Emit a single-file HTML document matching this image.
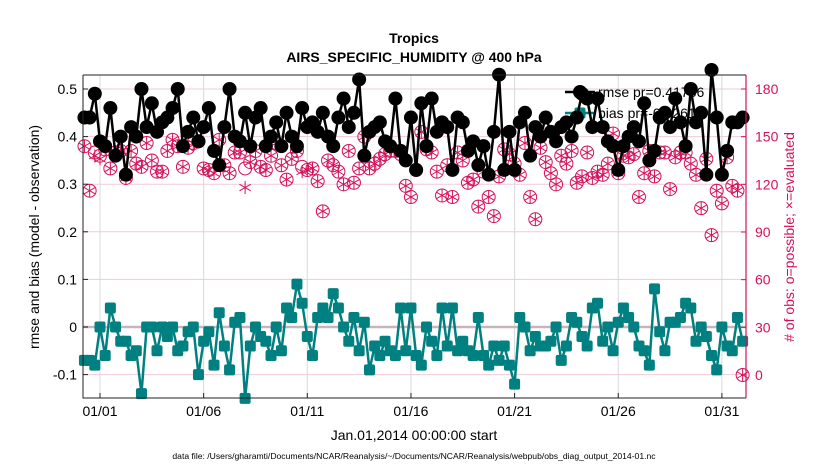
<!DOCTYPE html>
<html><head><meta charset="utf-8"><style>
body{margin:0;background:#fff;}
svg{display:block;font-family:"Liberation Sans",sans-serif;}
</style></head><body>
<svg id="chart" width="830" height="470" viewBox="0 0 830 470">
<text x="414" y="43" font-size="14" font-weight="bold" text-anchor="middle">Tropics</text>
<text x="414" y="62" font-size="14" font-weight="bold" text-anchor="middle">AIRS_SPECIFIC_HUMIDITY @ 400 hPa</text>
<g id="grid"></g><g id="legend"></g><g id="marks"></g><g id="axes"></g>
<text x="414" y="440" font-size="14" text-anchor="middle">Jan.01,2014 00:00:00 start</text>
<text x="414" y="459" font-size="8.6" text-anchor="middle">data file: /Users/gharamti/Documents/NCAR/Reanalysis/~/Documents/NCAR/Reanalysis/webpub/obs_diag_output_2014-01.nc</text>
<text transform="translate(39,237) rotate(-90)" font-size="14" text-anchor="middle">rmse and bias (model - observation)</text>
<text transform="translate(794,237) rotate(-90)" font-size="14" fill="#d6105a" text-anchor="middle"># of obs: o=possible; ×=evaluated</text>
</svg>
<script>
const rmse=[0.44,0.44,0.49,0.39,0.38,0.46,0.36,0.40,0.32,0.42,0.40,0.50,0.42,0.47,0.41,0.43,0.44,0.46,0.50,0.38,0.41,0.44,0.39,0.42,0.46,0.37,0.34,0.42,0.50,0.40,0.39,0.45,0.38,0.44,0.46,0.38,0.40,0.43,0.38,0.45,0.40,0.38,0.46,0.42,
0.43,0.41,0.45,0.40,0.38,0.44,0.48,0.42,0.45,0.52,0.36,0.41,0.42,0.43,0.39,0.38,0.48,0.37,0.35,0.44,0.33,0.47,0.38,0.48,0.41,0.43,0.42,0.33,0.44,0.43,0.37,0.39,0.34,0.38,0.32,0.41,0.53,0.33,0.41,0.33,0.43,0.45,0.36,
0.42,0.40,0.44,0.41,0.39,0.42,0.43,0.40,0.44,0.49,0.48,0.42,0.48,0.42,0.39,0.38,0.33,0.38,0.40,0.42,0.39,0.47,0.35,0.37,0.44,0.45,0.42,0.48,0.43,0.38,0.50,0.43,0.45,0.32,0.54,0.44,0.32,0.37,0.43,0.43,0.44];
const bias=[-0.07,-0.07,-0.08,0.00,-0.06,0.04,0.00,-0.03,-0.03,-0.06,-0.05,-0.14,0.00,0.00,-0.05,0.00,-0.02,0.00,-0.05,-0.04,-0.01,0.00,-0.10,-0.03,-0.01,-0.08,0.03,-0.04,-0.09,0.01,0.02,-0.15,-0.04,0.00,-0.02,-0.03,-0.06,0.00,-0.05,0.04,0.02,0.09,0.05,-0.02,
-0.06,0.02,0.04,0.02,0.07,0.04,0.00,-0.03,0.02,-0.05,0.01,-0.09,-0.04,-0.06,-0.03,-0.05,-0.06,0.04,-0.05,0.04,-0.06,-0.08,0.00,-0.03,-0.06,0.04,-0.04,0.04,-0.05,-0.03,-0.05,-0.06,0.02,-0.06,-0.08,-0.04,-0.07,-0.04,-0.08,-0.12,0.02,0.00,-0.05,
-0.02,-0.04,-0.04,-0.03,0.00,-0.07,-0.04,0.02,0.01,-0.02,-0.04,0.04,0.05,-0.03,0.00,-0.05,0.01,0.04,0.02,0.00,-0.04,-0.05,-0.08,0.08,-0.01,-0.05,0.01,0.01,0.02,0.05,0.04,-0.03,0.00,-0.02,-0.06,-0.09,0.00,-0.04,-0.05,0.02,-0.03];
const possible=[144,116,140,138,142,130,140,141,124,141,133,131,146,135,128,128,141,148,144,131,143,146,147,130,129,127,148,132,127,140,140,130,134,141,131,129,138,146,132,123,136,141,131,129,
130,122,103,135,132,128,120,141,121,130,150,130,133,136,139,141,141,139,119,112,129,153,142,140,128,113,132,112,140,135,121,123,106,128,112,100,125,142,139,133,126,146,112,
98,143,134,127,120,138,133,141,121,125,140,124,128,126,133,152,127,138,137,139,112,127,141,125,140,140,117,137,140,140,133,126,105,136,88,116,108,137,119,116,0];
const evaluated=[144,116,138,136,142,130,140,141,124,141,133,131,146,135,128,128,141,148,144,131,143,146,147,130,129,127,148,132,127,140,140,118,134,141,131,129,138,146,132,123,136,141,128,129,
130,122,103,135,132,128,120,141,121,130,150,130,133,136,139,141,141,139,119,112,129,153,142,140,128,113,132,112,140,135,121,123,106,128,112,100,125,142,139,133,126,146,112,
98,143,134,127,120,138,133,141,121,125,140,124,128,126,133,152,127,138,137,139,112,127,141,125,140,140,117,137,140,140,133,126,105,136,88,116,108,137,119,116,0];
const xTickLabels=["01/01","01/06","01/11","01/16","01/21","01/26","01/31"];
const xTickDays=[0,5,10,15,20,25,30];
const leftTicks=[-0.1,0,0.1,0.2,0.3,0.4,0.5];
const rightTicks=[0,30,60,90,120,150,180];
const t0=-0.75, dt=0.25;

const L=83,R=746,T=75,B=398;
const X=d=>100+d*20.73;
const YL=v=>327-476*v;
const YR=c=>375-c*1.5889;
const NS="http://www.w3.org/2000/svg";
function mk(parent,tag,attrs){const e=document.createElementNS(NS,tag);for(const k in attrs)e.setAttribute(k,attrs[k]);parent.appendChild(e);return e;}
const grid=document.getElementById('grid'),axes=document.getElementById('axes'),marks=document.getElementById('marks'),legend=document.getElementById('legend');
const PINK="#d6105a";
leftTicks.forEach(v=>{const y=YL(v);const l=mk(grid,'line',{x1:L,x2:R,y1:y,y2:y,stroke:'#f2c8d8','stroke-width':1});

});
xTickDays.forEach(d=>{const x=X(d);const l=mk(grid,'line',{x1:x,x2:x,y1:T,y2:B,stroke:'#d8d8d8','stroke-width':1});

});
const zl=mk(grid,'line',{x1:L,x2:R,y1:YL(0),y2:YL(0),stroke:'#c8b4bc','stroke-width':2.5});


const lg1=mk(legend,'g',{});


mk(lg1,'line',{x1:565,x2:595,y1:92,y2:92,stroke:'#000','stroke-width':2.5});
mk(lg1,'circle',{cx:580,cy:92,r:7,fill:'#000'});
const t1=mk(lg1,'text',{x:598,y:97,'font-size':14});t1.textContent='rmse pr=0.41786';
const lg2=mk(legend,'g',{});


mk(lg2,'line',{x1:565,x2:595,y1:113,y2:113,stroke:'#008080','stroke-width':2.5});
mk(lg2,'rect',{x:574.5,y:107.5,width:11,height:11,rx:2,fill:'#008080'});
const t2=mk(lg2,'text',{x:598,y:118,'font-size':14});t2.textContent='bias pr=-0.02619';
possible.forEach((c,i)=>{const x=X(t0+i*dt),y=YR(c);const g=mk(marks,'g',{});


mk(g,'circle',{cx:x,cy:y,r:6.5,fill:'none',stroke:PINK,'stroke-width':1});});
evaluated.forEach((c,i)=>{const x=X(t0+i*dt),y=YR(c);const g=mk(marks,'g',{stroke:PINK,'stroke-width':1});


for(let a=0;a<3;a++){const an=Math.PI/2+a*Math.PI/3;mk(g,'line',{x1:x-6.5*Math.cos(an),y1:y-6.5*Math.sin(an),x2:x+6.5*Math.cos(an),y2:y+6.5*Math.sin(an)});}});
const rp=rmse.map((v,i)=>X(t0+i*dt)+','+YL(v)).join(' ');
const rl=mk(marks,'polyline',{points:rp,fill:'none',stroke:'#000','stroke-width':2.5});


rmse.forEach((v,i)=>{const c=mk(marks,'circle',{cx:X(t0+i*dt),cy:YL(v),r:7,fill:'#000'});

});
const bp=bias.map((v,i)=>X(t0+i*dt)+','+YL(v)).join(' ');
const bl=mk(marks,'polyline',{points:bp,fill:'none',stroke:'#008080','stroke-width':2.5});


bias.forEach((v,i)=>{const r=mk(marks,'rect',{x:X(t0+i*dt)-5.5,y:YL(v)-5.5,width:11,height:11,rx:2,fill:'#008080'});

});
const fr=mk(axes,'path',{d:`M${L},${T}H${R}M${L},${T}V${B}H${R}`,fill:'none',stroke:'#222','stroke-width':1});


const ra=mk(axes,'line',{x1:R,x2:R,y1:T,y2:B,stroke:PINK,'stroke-width':1.2});


leftTicks.forEach(v=>{const y=YL(v);mk(axes,'line',{x1:L,x2:L+5,y1:y,y2:y,stroke:'#222'});
const t=mk(axes,'text',{x:L-6,y:y+5,'font-size':14,'text-anchor':'end'});t.textContent=(v===0?'0':v.toFixed(1));

});
rightTicks.forEach(c=>{const y=YR(c);mk(axes,'line',{x1:R-5,x2:R,y1:y,y2:y,stroke:PINK});
const t=mk(axes,'text',{x:R+9,y:y+5,'font-size':14,fill:PINK});t.textContent=c;

});
xTickDays.forEach((d,i)=>{const x=X(d);mk(axes,'line',{x1:x,x2:x,y1:B,y2:B-5,stroke:'#222'});
const t=mk(axes,'text',{x:x,y:B+18,'font-size':14,'text-anchor':'middle'});t.textContent=xTickLabels[i];

});
</script>
</body></html>
